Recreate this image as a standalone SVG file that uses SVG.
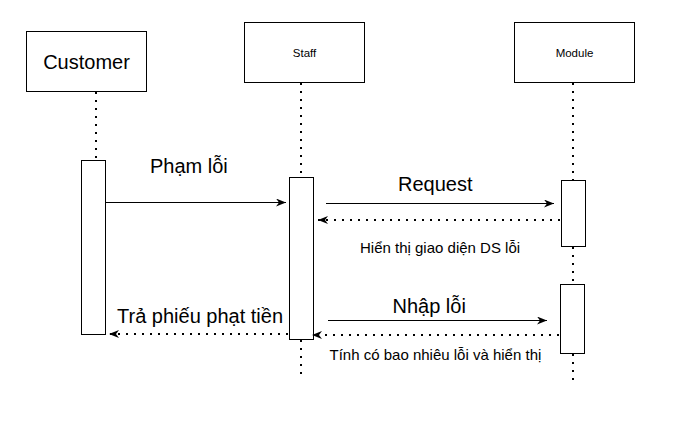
<svg xmlns="http://www.w3.org/2000/svg" width="697" height="421" viewBox="0 0 697 421">
<style>
.box{fill:#fff;stroke:#000;stroke-width:1}
.life{fill:none;stroke:#000;stroke-width:2;stroke-dasharray:2 6}
.msg{fill:none;stroke:#000;stroke-width:1}
.ret{fill:none;stroke:#000;stroke-width:2;stroke-dasharray:2 6}
text{font-family:"Liberation Sans",Arial,Helvetica,sans-serif;fill:#000}
.big{font-size:20px}
.sm{font-size:11.5px}
.mid{font-size:15px}
</style>
<defs>
<marker id="arr" viewBox="0 0 10 8" refX="10" refY="4" markerWidth="10" markerHeight="8" markerUnits="userSpaceOnUse" orient="auto">
<path d="M0,0 L10,4 L0,8 L3,4 Z" fill="#000"/>
</marker>
</defs>
<rect width="697" height="421" fill="#fff"/>
<g id="lifelines">
<line class="life" x1="96" y1="92" x2="96" y2="160"/>
<line class="life" x1="301" y1="83" x2="301" y2="177"/>
<line class="life" x1="301" y1="340" x2="301" y2="378"/>
<line class="life" x1="573" y1="83" x2="573" y2="180"/>
<line class="life" x1="573" y1="247" x2="573" y2="284"/>
<line class="life" x1="573" y1="354" x2="573" y2="384"/>
</g>
<g id="customer">
<rect class="box" x="26.5" y="31.5" width="120" height="60"/>
<text class="big" x="86.5" y="69" text-anchor="middle">Customer</text>
</g>
<g id="staff">
<rect class="box" x="244.5" y="22.5" width="120" height="60"/>
<text class="sm" x="304.5" y="56.5" text-anchor="middle">Staff</text>
</g>
<g id="module">
<rect class="box" x="514.5" y="22.5" width="120" height="60"/>
<text class="sm" x="574.5" y="56.5" text-anchor="middle">Module</text>
</g>
<g id="customer-activation">
<rect class="box" x="81.5" y="160.5" width="24" height="174"/>
</g>
<g id="staff-activation">
<rect class="box" x="289.5" y="177.5" width="24" height="162"/>
</g>
<g id="module-activation-1">
<rect class="box" x="561.5" y="180.5" width="24" height="66"/>
</g>
<g id="module-activation-2">
<rect class="box" x="560.5" y="284.5" width="24" height="69"/>
</g>
<g id="connectors">
<line class="msg" x1="106" y1="202.5" x2="286" y2="202.5" marker-end="url(#arr)"/>
<line class="msg" x1="326" y1="203.5" x2="554" y2="203.5" marker-end="url(#arr)"/>
<line class="ret" x1="560" y1="220" x2="318" y2="220" marker-end="url(#arr)"/>
<line class="msg" x1="328" y1="320.5" x2="547" y2="320.5" marker-end="url(#arr)"/>
<line class="ret" x1="559" y1="335" x2="312" y2="335" marker-end="url(#arr)"/>
<line class="ret" x1="288" y1="334" x2="109" y2="334" marker-end="url(#arr)"/>
</g>
<g id="labels">
<text class="big" x="150" y="173">Phạm lỗi</text>
<text class="big" x="398" y="191">Request</text>
<text class="mid" x="360" y="253">Hiển thị giao diện DS lỗi</text>
<text class="big" x="392.5" y="313">Nhập lỗi</text>
<text class="mid" x="329.5" y="360">Tính có bao nhiêu lỗi và hiển thị</text>
<text class="big" x="117" y="322.5">Trả phiếu phạt tiền</text>
</g>
</svg>
